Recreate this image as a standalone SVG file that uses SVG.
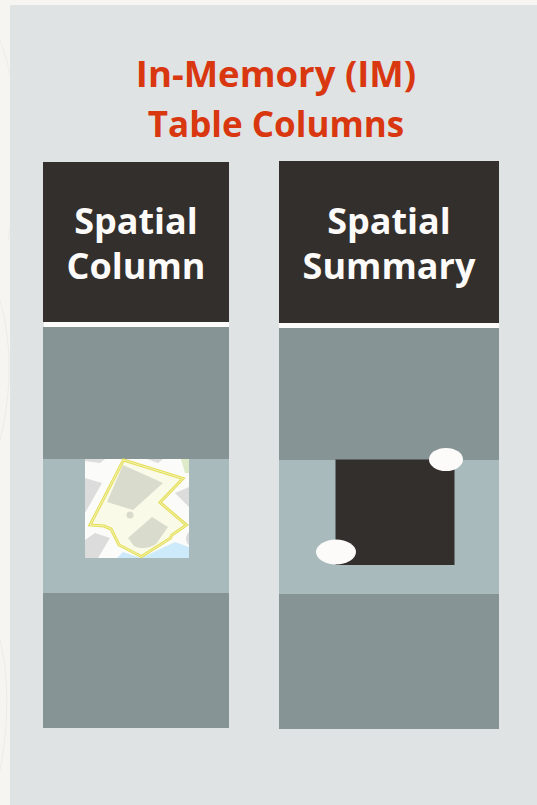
<svg xmlns="http://www.w3.org/2000/svg" width="537" height="805" viewBox="0 0 537 805">
<style>
text{font-family:"Open Sans","Noto Sans",sans-serif;font-weight:700;text-anchor:middle}
.t{font-size:36.500px;fill:#d9370f}
.t2{font-size:35px;fill:#d9370f}
.h{font-size:36px;fill:#fcfbf9}
.d{fill:#332f2c}.m{fill:#869495}.l{fill:#a9babd}.w{fill:#fcfbf9}
.b{fill:#d9dbcc}
.g{fill:#dcdcdc}
</style>
<rect width="537" height="805" fill="#f6f5f2"/>
<g fill="none" stroke="#eeece8" stroke-width="1">
<path d="M0 40C20 90 22 170 8 240M0 300C14 350 10 400 0 440M0 640C10 680 8 730 0 770"/>
</g>
<rect x="10" y="5" width="527" height="800" fill="#dfe3e4"/>
<g id="title">
<text class="t" x="276" y="87">In-Memory (IM)</text>
<text class="t2" x="276" y="137">Table Columns</text>
</g>
<g id="spatial-column">
<rect class="d" x="43" y="162" width="186" height="160"/>
<rect class="w" x="44" y="322" width="185" height="5"/>
<rect class="m" x="43" y="327" width="186" height="132"/>
<rect class="l" x="43" y="459" width="186" height="134"/>
<rect class="m" x="43" y="593" width="186" height="135"/>
<text class="h" x="136" y="234">Spatial</text>
<text class="h" x="136" y="279">Column</text>
<g id="map">
<rect x="85" y="459" width="104" height="99" fill="#fbfbf9"/>
<path class="g" d="M85 478L102 483L85 513ZM95 533L110 538L98 558H85V540ZM85 459H105L100 463L85 461ZM147 459H163L158 463ZM189 487V507L175 493ZM189 532C185 536 185 542 189 545Z"/>
<path d="M181 459H189V473H185Z" fill="#dceac8"/>
<path d="M117 558L123 552L141 558L175 542L189 547V558Z" fill="#cdeafb"/>
<path d="M123.500 460L183 478.500L160 502.500L186.500 525L172 535L170 538.500L141.500 556.500L119 545L111 529L104 526L90 525Z" fill="#fafae8"/>
<path class="b" d="M123 465L163 483L133 510L107 502ZM152 517L168 527L156 544C150 549 139 549 134 546L128 538Z"/>
<circle class="b" cx="130" cy="515" r="3.500"/>
<path d="M123.500 460L183 478.500L160 502.500L186.500 525L172 535L170 538.500L141.500 556.500L119 545L111 529L104 526L90 525Z" fill="none" stroke="#e5e05c" stroke-width="3"/>
<path d="M123.500 460L183 478.500L160 502.500L186.500 525L172 535L170 538.500L141.500 556.500L119 545L111 529L104 526L90 525Z" fill="none" stroke="#fbfbe8" stroke-width="0.600"/>
</g>
</g>
<g id="spatial-summary">
<rect class="d" x="279" y="161" width="220" height="162"/>
<rect class="w" x="279" y="323" width="220" height="5"/>
<rect class="m" x="279" y="328" width="220" height="132"/>
<rect class="l" x="279" y="460" width="220" height="134"/>
<rect class="m" x="279" y="594" width="220" height="135"/>
<text class="h" x="389" y="234">Spatial</text>
<text class="h" x="389" y="279">Summary</text>
<rect class="d" x="335.500" y="459.500" width="119" height="105.500"/>
<ellipse class="w" cx="446" cy="459.500" rx="17" ry="11.500"/>
<ellipse class="w" cx="336" cy="552" rx="20" ry="12.500"/>
</g>
</svg>
